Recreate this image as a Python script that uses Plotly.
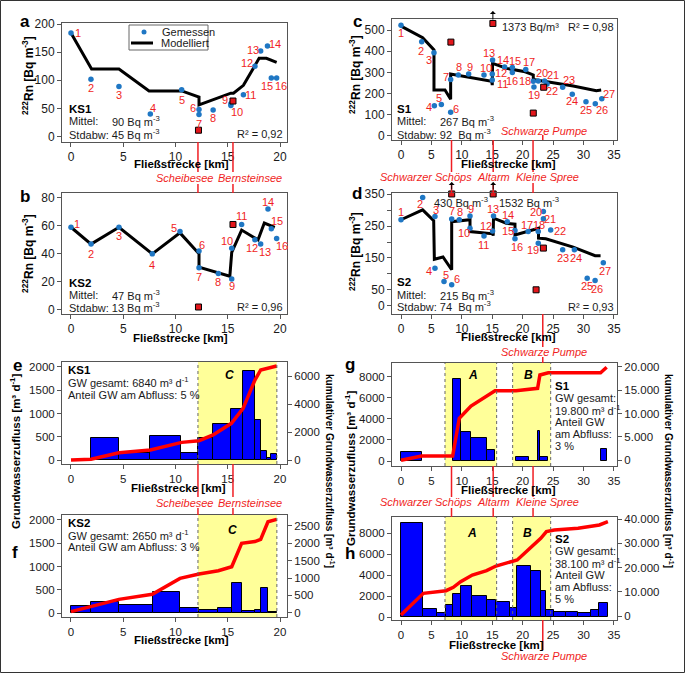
import plotly.graph_objects as go

W, H = 685, 673
FONT = "Liberation Sans, Arial, sans-serif"
RED = "#f01e23"
BLUE_PT = "#1f77c4"
AXC = "#555555"

# ---------------- DATA ----------------
# panel a (KS1, Rn)
a_meas_x = [0, 1.91, 4.59, 7.59, 10.59, 12.25, 12.25, 13.6, 15.3, 15.3, 16.5, 17.6, 18.15, 18.8, 19.17, 19.68]
a_meas_y = [184, 102, 89, 40, 83, 48, 39, 47, 58, 55, 74, 125, 152, 161, 104, 104]
a_model_x = [0, 1.97, 4.59, 7.47, 10.6, 12.25, 12.25, 15.3, 15.55, 16.5, 18.0, 18.7, 19.68]
a_model_y = [184, 120, 120, 81, 81, 70, 56, 77, 77, 91, 139, 139, 132]
a_sq_x = [12.2, 15.5]
a_sq_y = [11, 63]

# panel b (KS2, Rn)
b_meas_x = [0, 1.92, 4.59, 7.78, 10.43, 12.25, 12.25, 14.1, 15.38, 15.38, 16.33, 17.6, 18.15, 18.85, 19.17, 19.68]
b_meas_y = [59, 47, 59, 40, 56, 42, 30, 26, 22, 44, 61, 50, 47, 72, 58, 51]
b_model_x = [0, 1.92, 4.59, 7.78, 10.43, 12.25, 12.25, 15.2, 15.38, 16.33, 17.9, 18.5, 19.5]
b_model_y = [59, 47, 59, 40, 55, 40, 30.5, 24, 41, 57, 50, 62, 59]
b_sq_x = [15.5, 12.2]
b_sq_y = [61, 2]

# panel c (S1, Rn)
c_meas_x = [0, 3.4, 5.42, 5.48, 6.63, 8.16, 8.16, 9.42, 11.12, 13.64, 15.0, 15.0, 15.05, 17.03, 18.3, 18.3,
            20.5, 21.74, 21.85, 22.56, 23.6, 24.0, 26.57, 28.15, 30.4, 31.93, 33.0]
c_meas_y = [523, 445, 393, 143, 148, 112, 267, 288, 292, 288, 264, 292, 358, 325, 323, 299,
            314, 258, 231, 260, 260, 245, 230, 197, 162, 152, 176]
c_model_x = [0, 3.56, 5.42, 5.42, 7.23, 8.16, 8.16, 11.9, 14.9, 15.0, 15.05, 17.36, 20.4, 21.74, 21.74,
             24.0, 28.3, 32.1, 32.9]
c_model_y = [518, 464, 406, 217, 217, 173, 292, 272, 258, 240, 343, 319, 303, 288, 267,
             256, 236, 214, 217]
c_sq_x = [8.2, 15.1, 21.74, 23.45]
c_sq_y = [443, 531, 108, 230]

# panel d (S2, Rn)
d_meas_x = [0, 3.56, 5.58, 5.58, 7.07, 8.33, 8.33, 9.58, 11.34, 11.34, 13.64, 15.05, 15.2, 17.47, 18.73, 18.73,
            20.9, 22.56, 22.56, 23.4, 23.4, 24.6, 26.57, 28.5, 30.6, 31.9, 33.25]
d_meas_y = [270, 340, 280, 118, 76, 66, 272, 270, 282, 243, 219, 235, 282, 264, 236, 210,
            233, 233, 196, 296, 273, 238, 176, 176, 86, 79, 135]
d_model_x = [0, 3.56, 5.37, 5.48, 6.9, 8.33, 8.33, 11.34, 11.34, 15.1, 15.15, 15.2, 17.3, 18.73, 18.73,
             22.6, 22.6, 23.8, 28.3, 31.9, 32.8]
d_model_y = [270, 301, 267, 146, 153, 113, 264, 270, 233, 226, 220, 275, 259, 256, 222,
             243, 212, 210, 184, 157, 157]
d_sq_x = [8.33, 15.15, 23.4, 22.2]
d_sq_y = [351, 351, 181, 50]

# panel e (KS1 groundwater)
e_left = [1.91, 4.56, 7.6, 10.56, 12.15, 13.6, 15.35, 16.47, 17.6, 18.15, 18.8, 19.17]
e_right = [4.56, 7.6, 10.56, 12.15, 13.6, 15.35, 16.47, 17.6, 18.15, 18.8, 19.17, 19.68]
e_val = [480, 145, 525, 150, 480, 770, 1100, 1910, 860, 195, 40, 120]
e_cum_x = [0, 1.92, 4.59, 7.6, 10.6, 12.25, 13.6, 15.35, 16.47, 17.6, 18.15, 19.68]
e_cum_y = [0, 50, 520, 710, 1260, 1380, 1790, 2620, 3690, 5710, 6430, 6710]

# panel f (KS2 groundwater)
f_left = [0, 1.92, 4.56, 7.8, 10.43, 12.25, 14.1, 15.38, 16.33, 17.6, 18.15, 18.85]
f_right = [1.92, 4.56, 7.8, 10.43, 12.25, 14.1, 15.38, 16.33, 17.6, 18.15, 18.85, 19.68]
f_val = [140, 230, 170, 450, 100, 75, 110, 650, 45, 65, 530, 30]
f_cum_x = [0, 1.92, 4.59, 7.78, 10.43, 12.25, 14.1, 15.38, 16.33, 17.6, 18.15, 18.85, 19.68]
f_cum_y = [30, 175, 385, 530, 990, 1115, 1210, 1325, 2000, 2050, 2115, 2620, 2690]

# panel g (S1 groundwater)
g_left = [0, 8.49, 9.8, 11.5, 14.07, 18.9, 21.0, 22.45, 22.83, 32.8]
g_right = [3.4, 9.8, 11.5, 14.07, 15.45, 21.0, 22.45, 22.83, 24.2, 33.8]
g_val = [820, 7800, 2780, 2150, 1040, 410, 40, 2850, 410, 1100]
g_cum_x = [0, 3.4, 8.49, 9.58, 11.5, 12.98, 15.45, 18.9, 21.0, 22.45, 22.83, 24.2, 32.8, 33.8]
g_cum_y = [0, 920, 920, 8970, 11600, 12880, 14870, 14870, 15230, 15380, 18230, 18720, 18720, 19870]

# panel h (S2 groundwater)
h_left = [0, 3.67, 5.86, 7.4, 8.6, 9.8, 11.72, 14.07, 15.6, 17.9, 19.1, 21.3, 22.97, 23.8, 25.2, 27.1, 29.1, 31.3, 32.6]
h_right = [3.67, 5.86, 7.4, 8.6, 9.8, 11.72, 14.07, 15.6, 17.9, 19.1, 21.3, 22.97, 23.8, 25.2, 27.1, 29.1, 31.3, 32.6, 34.0]
h_val = [9000, 790, 440, 1140, 2190, 3010, 2030, 1650, 1430, 860, 4890, 4440, 2530, 700, 480, 540, 380, 700, 1330]
h_cum_x = [0, 3.67, 7.4, 8.6, 9.8, 11.72, 14.07, 15.6, 19.1, 21.3, 22.97, 23.9, 25.2, 29.1, 31.3, 32.6, 34.0]
h_cum_y = [400, 9350, 10440, 11820, 14150, 16900, 18690, 20600, 23090, 27900, 32000, 34780, 35460, 36190, 36830, 37530, 38880]

# zones and landmarks (km)
zone_C = [12.15, 19.7]
zone_A = [7.23, 15.72]
zone_B = [18.35, 24.6]
left_marks = [12.15, 15.5]
left_mark_names = ["Scheibesee", "Bernsteinsee"]
right_marks = [8.3, 15.15, 21.7]
right_mark_names = ["Schwarzer Schöps", "Altarm", "Kleine Spree"]
pumpe_km = 23.3

# tick labels
x20_ticks = [0, 5, 10, 15, 20]
x35_ticks = [0, 5, 10, 15, 20, 25, 30, 35]
a_yticks = [0, 50, 100, 150, 200]
b_yticks = [0, 20, 40, 60, 80]
c_yticks = [0, 100, 200, 300, 400, 500]
d_yticks = [0, 50, 100, 150, 200, 250, 300, 350]
d_yticktext = ["0", "50", "", "150", "", "250", "", "350"]
ef_lticks = [0, 500, 1000, 1500, 2000]
e_rticks = [0, 2000, 4000, 6000]
f_rticks = [0, 500, 1000, 1500, 2000, 2500]
gh_lticks = [0, 2000, 4000, 6000, 8000]
g_rticks = [0, 5000, 10000, 15000, 20000]
g_rticktext = ["0", "5.000", "10.000", "15.000", "20.000"]
h_rticks = [0, 10000, 20000, 30000, 40000]
h_rticktext = ["0", "10.000", "20.000", "30.000", "40.000"]

# ---------------- LAYOUT HELPERS ----------------
def px(p):
    return p / W

def py(p):
    return 1 - p / H

XL = [px(62), px(287)]
XR = [px(392), px(617)]

def xax(domain, rng, anchor, tickvals, fs=12):
    return dict(domain=domain, range=rng, anchor=anchor, showline=True, mirror=True,
                linecolor=AXC, linewidth=1, ticks="outside", ticklen=4, tickcolor=AXC,
                tickvals=tickvals, tickfont=dict(size=fs, color="#1a1a1a", family=FONT),
                showgrid=False, zeroline=False, fixedrange=True, automargin=False)

def yax(domain, rng, anchor, tickvals, ticktext=None, fs=12, mirror=True):
    d = dict(domain=domain, range=rng, anchor=anchor, showline=True, mirror=mirror,
             linecolor=AXC, linewidth=1, ticks="outside", ticklen=4, tickcolor=AXC,
             tickvals=tickvals, tickfont=dict(size=fs, color="#1a1a1a", family=FONT),
             showgrid=False, zeroline=False, fixedrange=True, automargin=False)
    if ticktext is not None:
        d["ticktext"] = ticktext
    return d

def yax_right(overlay, rng, anchor, tickvals, ticktext=None, fs=11.5):
    d = dict(overlaying=overlay, side="right", range=rng, anchor=anchor, showline=True,
             linecolor=AXC, linewidth=1, ticks="outside", ticklen=4, tickcolor=AXC,
             tickvals=tickvals, tickfont=dict(size=fs, color="#1a1a1a", family=FONT),
             showgrid=False, zeroline=False, fixedrange=True, automargin=False)
    if ticktext is not None:
        d["ticktext"] = ticktext
    return d

fig = go.Figure()

def rn_panel(mx, my, lx, ly, sx, sy, xa, ya):
    fig.add_trace(go.Scatter(x=lx, y=ly, mode="lines", line=dict(color="black", width=3),
                             xaxis=xa, yaxis=ya, cliponaxis=False))
    fig.add_trace(go.Scatter(x=mx, y=my, mode="markers",
                             marker=dict(color=BLUE_PT, size=5.5), xaxis=xa, yaxis=ya, cliponaxis=False))
    fig.add_trace(go.Scatter(x=sx, y=sy, mode="markers",
                             marker=dict(color="#e3161b", size=6, symbol="square",
                                         line=dict(color="black", width=1)),
                             xaxis=xa, yaxis=ya, cliponaxis=False))

rn_panel(a_meas_x, a_meas_y, a_model_x, a_model_y, a_sq_x, a_sq_y, "x", "y")
rn_panel(b_meas_x, b_meas_y, b_model_x, b_model_y, b_sq_x, b_sq_y, "x2", "y2")
rn_panel(c_meas_x, c_meas_y, c_model_x, c_model_y, c_sq_x, c_sq_y, "x3", "y3")
rn_panel(d_meas_x, d_meas_y, d_model_x, d_model_y, d_sq_x, d_sq_y, "x4", "y4")

def gw_panel(left, right, vals, cx, cy, xa, ya, ya2):
    centers = [(l + r) / 2 for l, r in zip(left, right)]
    widths = [r - l for l, r in zip(left, right)]
    fig.add_trace(go.Bar(x=centers, y=vals, width=widths,
                         marker=dict(color="#0000ff", line=dict(color="black", width=1)),
                         xaxis=xa, yaxis=ya))
    fig.add_trace(go.Scatter(x=cx, y=cy, mode="lines", line=dict(color="#ff0000", width=3.5),
                             xaxis=xa, yaxis=ya2, cliponaxis=False))

gw_panel(e_left, e_right, e_val, e_cum_x, e_cum_y, "x5", "y5", "y6")
gw_panel(f_left, f_right, f_val, f_cum_x, f_cum_y, "x6", "y7", "y8")
gw_panel(g_left, g_right, g_val, g_cum_x, g_cum_y, "x7", "y9", "y10")
gw_panel(h_left, h_right, h_val, h_cum_x, h_cum_y, "x8", "y11", "y12")

XR20 = [-0.86, 20.67]
XR35 = [-1.48, 35.5]
dom = lambda top, bot: [py(bot), py(top)]

layout = dict(
    width=W, height=H, autosize=False, margin=dict(l=0, r=0, t=0, b=0, pad=0),
    paper_bgcolor="white", plot_bgcolor="rgba(0,0,0,0)", showlegend=False,
    font=dict(family=FONT, color="#1a1a1a"), bargap=0,
    xaxis=xax(XL, XR20, "y", x20_ticks),
    yaxis=yax(dom(23, 142), [-10, 202], "x", a_yticks),
    xaxis2=xax(XL, XR20, "y2", x20_ticks),
    yaxis2=yax(dom(193, 314), [-3, 83.5], "x2", b_yticks),
    xaxis3=xax(XR, XR35, "y3", x35_ticks),
    yaxis3=yax(dom(19, 140), [-19, 552], "x3", c_yticks),
    xaxis4=xax(XR, XR35, "y4", x35_ticks),
    yaxis4=yax(dom(193, 314), [-26, 354], "x4", d_yticks, d_yticktext),
    xaxis5=xax(XL, XR20, "y5", x20_ticks, 11.5),
    yaxis5=yax(dom(362, 464), [-86, 2107], "x5", ef_lticks, fs=11.5),
    yaxis6=yax_right("y5", [-286, 7000], "x5", e_rticks),
    xaxis6=xax(XL, XR20, "y7", x20_ticks, 11.5),
    yaxis7=yax(dom(515, 617), [-86, 2107], "x6", ef_lticks, fs=11.5),
    yaxis8=yax_right("y7", [-124, 2817], "x6", f_rticks),
    xaxis7=xax(XR, XR35, "y9", x35_ticks, 11.5),
    yaxis9=yax(dom(363, 466), [-474, 9300], "x7", gh_lticks, fs=11.5),
    yaxis10=yax_right("y9", [-1218, 20790], "x7", g_rticks, g_rticktext),
    xaxis8=xax(XR, XR35, "y11", x35_ticks, 11.5),
    yaxis11=yax(dom(517, 620), [-257, 9550], "x8", gh_lticks, fs=11.5),
    yaxis12=yax_right("y11", [-1650, 40825], "x8", h_rticks, h_rticktext),
)

shapes = []
ann = []

# yellow zones
def zone(xa, ya, z):
    shapes.append(dict(type="rect", xref=xa, yref=ya + " domain", x0=z[0], x1=z[1], y0=0, y1=1,
                       fillcolor="#ffff99", line=dict(width=0), layer="below"))
    for xv in z:
        shapes.append(dict(type="line", xref=xa, yref=ya + " domain", x0=xv, x1=xv, y0=0, y1=1,
                           line=dict(color="#666666", width=1, dash="dot"), layer="above"))

zone("x5", "y5", zone_C)
zone("x6", "y7", zone_C)
for z in (zone_A, zone_B):
    zone("x7", "y9", z)
    zone("x8", "y11", z)

# red landmark connector lines
def vseg(xa, xv, top, bot):
    shapes.append(dict(type="line", xref=xa, yref="paper", x0=xv, x1=xv, y0=py(top), y1=py(bot),
                       line=dict(color=RED, width=1.5)))

for xv in left_marks:
    for (t, b) in [(142, 172), (184, 193), (464, 497), (508, 515)]:
        vseg("x", xv, t, b)
for xv in right_marks:
    for (t, b) in [(140, 172), (183, 193), (466, 497), (508, 517)]:
        vseg("x3", xv, t, b)
for (t, b) in [(135, 140), (314, 347), (357, 363), (620, 650)]:
    vseg("x3", pumpe_km, t, b)

def txt(x, y, s, size=11, color="#1a1a1a", anchor="left", bold=False, italic=False, angle=0):
    if bold:
        s = "<b>" + s + "</b>"
    if italic:
        s = "<i>" + s + "</i>"
    ann.append(dict(x=px(x), y=py(y), xref="paper", yref="paper", text=s, showarrow=False,
                    xanchor=anchor, yanchor="middle", textangle=angle,
                    font=dict(size=size, color=color, family=FONT)))

for name, cx in zip(left_mark_names, [185, 250]):
    txt(cx, 178, name, 11, RED, "center", italic=True)
    txt(cx, 503, name, 11, RED, "center", italic=True)
for name, cx in zip(right_mark_names, [426, 493, 547]):
    txt(cx, 177, name, 11, RED, "center", italic=True)
    txt(cx, 502, name, 11, RED, "center", italic=True)
for yy in (131, 352, 656):
    txt(544, yy, "Schwarze Pumpe", 11, RED, "center", italic=True)

# panel letters
for L, xx, yy in [("a", 25, 22), ("b", 25, 196), ("c", 357, 22), ("d", 357, 194),
                  ("e", 17, 365), ("f", 15, 552), ("g", 350, 364), ("h", 350, 553)]:
    txt(xx, yy, L, 17, "black", "center", bold=True)

# axis titles
RN = "<sup>222</sup>Rn [Bq m<sup>-3</sup>]"
for xx, yy in [(28, 76), (28, 254), (355, 75), (355, 252)]:
    txt(xx, yy, RN, 12, "black", "center", bold=True, angle=-90)
for xx, yy in [(181, 164), (180, 338), (508, 164), (508, 337), (178, 488), (181, 640), (508, 490), (496, 645)]:
    txt(xx, yy, "Fließstrecke [km]", 11.5, "black", "center", bold=True)
GW = "Grundwasserzufluss [m³ d<sup>-1</sup>]"
KGW = "kumulativer Grundwasserzufluss [m³ d<sup>-1</sup>]"
txt(15, 451, GW, 11.5, "black", "center", bold=True, angle=-90)
txt(350, 468, GW, 11.5, "black", "center", bold=True, angle=-90)
txt(330, 471, KGW, 10, "black", "center", bold=True, angle=90)
txt(669, 471, KGW, 10, "black", "center", bold=True, angle=90)

# stats texts
M3 = " Bq m<sup>-3</sup>"
for (xl, xv, ys, nm, mit, std) in [(67, 110, (109, 121, 134), "KS1", "90", "45"),
                                   (67, 110, (283, 295, 307), "KS2", "47", "13"),
                                   (395, 438, (109, 121, 134), "S1", "267", "92\u00a0"),
                                   (395, 438, (282, 295, 306), "S2", "215", "74\u00a0")]:
    txt(xl, ys[0], nm, 11.5, "black", bold=True)
    txt(xl, ys[1], "Mittel:", 11)
    txt(xv, ys[1], mit + M3, 11)
    txt(xl, ys[2], "Stdabw: " + std + M3, 11)

txt(285, 134, "R² = 0,92", 11, anchor="right")
txt(285, 307, "R² = 0,96", 11, anchor="right")
txt(616, 27, "R² = 0,98", 11, anchor="right")
txt(616, 307, "R² = 0,93", 11, anchor="right")
txt(500, 27, "1373 Bq/m³", 11)
txt(432, 202, "430" + M3, 11)
txt(497, 202, "1532" + M3, 11)

# arrows for off-scale values
def arrow(xa, xv, tip, tail):
    ann.append(dict(x=xv, y=py(tip), xref=xa, yref="paper", text="", showarrow=True,
                    ax=0, ay=tail - tip, arrowhead=1, arrowsize=1, arrowwidth=1,
                    arrowcolor="black"))
arrow("x3", c_sq_x[1], 11, 21)
arrow("x4", d_sq_x[0], 182, 191)
arrow("x4", d_sq_x[1], 182, 191)

# groundwater texts
txt(66, 370, "KS1", 11.5, "black", bold=True)
txt(66, 382, "GW gesamt: 6840 m³ d<sup>-1</sup>", 11)
txt(66, 395, "Anteil GW am Abfluss: 5 %", 11)
txt(66, 523, "KS2", 11.5, "black", bold=True)
txt(66, 535, "GW gesamt: 2650 m³ d<sup>-1</sup>", 11)
txt(66, 547, "Anteil GW am Abfluss: 3 %", 11)
for y0, nm, tot, pct in [(386, "S1", "19.800", "3"), (539, "S2", "38.100", "5")]:
    txt(553, y0, nm, 11.5, "black", bold=True)
    txt(553, y0 + 12, "GW gesamt:", 11)
    txt(553, y0 + 24, tot + " m³ d<sup>-1</sup>", 11)
    txt(553, y0 + 36, "Anteil GW", 11)
    txt(553, y0 + 48, "am Abfluss:", 11)
    txt(553, y0 + 60, pct + " %", 11)

for L, xx, yy in [("C", 230, 375), ("C", 232, 530), ("A", 473, 375), ("B", 528, 375),
                  ("A", 472, 533), ("B", 527, 533)]:
    txt(xx, yy, L, 12, "black", "center", bold=True, italic=True)

# point number labels (offsets in px: dx right, dy down)
a_off = [(7, 0), (0, 9), (0, 9), (3, -6), (0, 10), (-6, -1), (0, 9), (0, 8), (-6, -4), (6, 6),
         (7, 0), (-8, -3), (-8, -1), (8, -2), (-4, 8), (4, 8)]
b_off = [(6, -3), (0, 10), (0, 9), (0, 11), (-6, -3), (3, -6), (0, 9), (0, 9), (0, 7), (-5, -7),
         (0, -8), (-3, 8), (4, 8), (0, -7), (6, -8), (5, 8)]
c_off = [(0, 8), (-1, 9), (-5, 7), (-5, 1), (-2, -7), (5, -3), (-5, -2), (1, -8), (1, -7), (2, -7),
         (10, 4), (9, -1), (-4, -7), (-2, -7), (3, -7), (0, 8), (3, -7), (-8, 0), (0, 8), (4, -8),
         (8, -6), (5, 7), (6, -7), (0, 7), (0, 8), (7, 6), (7, -5)]
d_off = [(0, -8), (-3, 7), (1, -7), (-6, 3), (2, -7), (5, -6), (0, -8), (1, -8), (1, -7), (-6, 5),
         (0, 9), (-7, -5), (0, -7), (1, -7), (-7, 0), (2, 8), (-1, -7), (1, -7), (-5, 7), (-7, 1),
         (7, 0), (9, 1), (0, 8), (2, 8), (0, 8), (2, 8), (2, 8)]

def num_labels(xs, ys, offs, xa, ya):
    for i, (xv, yv, (dx, dy)) in enumerate(zip(xs, ys, offs)):
        ann.append(dict(x=xv, y=yv, xref=xa, yref=ya, text=str(i + 1), showarrow=False,
                        xshift=dx, yshift=-dy, font=dict(size=11, color=RED, family=FONT)))

num_labels(a_meas_x, a_meas_y, a_off, "x", "y")
num_labels(b_meas_x, b_meas_y, b_off, "x2", "y2")
num_labels(c_meas_x, c_meas_y, c_off, "x3", "y3")
num_labels(d_meas_x, d_meas_y, d_off, "x4", "y4")

# legend in panel a (drawn as decoration)
shapes.append(dict(type="rect", xref="paper", yref="paper", x0=px(129), x1=px(208), y0=py(50), y1=py(25),
                   line=dict(color="#666666", width=1), fillcolor="white", layer="above"))
shapes.append(dict(type="circle", xref="paper", yref="paper", x0=px(141.5), x1=px(146.5), y0=py(34.5), y1=py(29.5),
                   line=dict(color=BLUE_PT, width=0), fillcolor=BLUE_PT, layer="above"))
shapes.append(dict(type="line", xref="paper", yref="paper", x0=px(131), x1=px(153), y0=py(43), y1=py(43),
                   line=dict(color="black", width=3), layer="above"))
txt(160, 32, "Gemessen", 11)
txt(159, 43, "Modelliert", 11)

# outer frame
shapes.append(dict(type="rect", xref="paper", yref="paper", x0=0.5 / W, x1=1 - 0.5 / W, y0=0.5 / H, y1=1 - 0.5 / H,
                   line=dict(color="#333333", width=1)))

layout["shapes"] = shapes
layout["annotations"] = ann
fig.update_layout(**layout)
fig.write_html("out.html", config={"displayModeBar": False},
               post_script="document.body.style.margin='0';document.body.style.padding='0';"
                           "document.body.style.overflow='hidden';")
